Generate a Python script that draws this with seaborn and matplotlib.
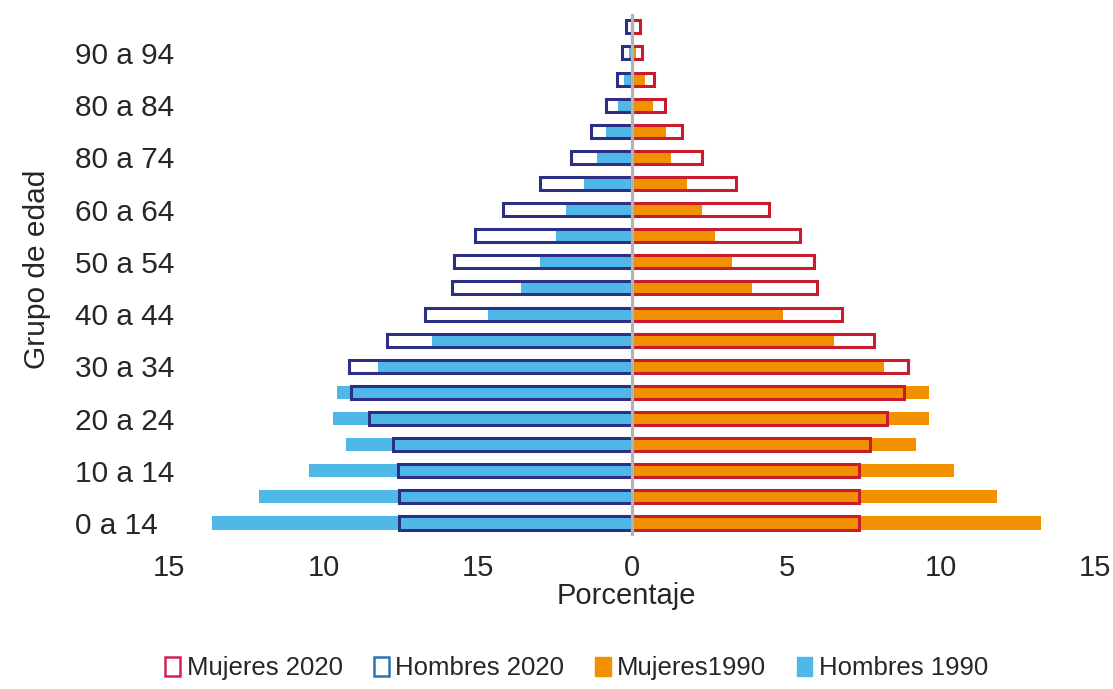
import seaborn as sns
import matplotlib.pyplot as plt
import pandas as pd
from matplotlib.patches import Patch

# grupos de edad, de 0-4 (abajo) a 95+ (arriba)
grupos = ["0-4", "5-9", "10-14", "15-19", "20-24", "25-29", "30-34", "35-39",
          "40-44", "45-49", "50-54", "55-59", "60-64", "65-69", "70-74",
          "75-79", "80-84", "85-89", "90-94", "95+"]
etiquetas_y = ["0 a 14", "10 a 14", "20 a 24", "30 a 34", "40 a 44",
               "50 a 54", "60 a 64", "80 a 74", "80 a 84", "90 a 94"]

hombres_2020 = [7.55, 7.55, 7.58, 7.75, 8.52, 9.10, 9.16, 7.94, 6.70, 5.83,
                5.76, 5.08, 4.18, 2.98, 1.97, 1.33, 0.84, 0.50, 0.32, 0.19]
hombres_1990 = [13.6, 12.1, 10.46, 9.26, 9.68, 9.55, 8.22, 6.47, 4.66, 3.60,
                2.98, 2.46, 2.14, 1.55, 1.13, 0.84, 0.45, 0.26, 0.10, 0.05]
mujeres_2020 = [7.34, 7.34, 7.34, 7.69, 8.26, 8.82, 8.93, 7.83, 6.80, 6.00,
                5.90, 5.43, 4.42, 3.35, 2.25, 1.62, 1.05, 0.70, 0.33, 0.24]
mujeres_1990 = [13.26, 11.83, 10.44, 9.21, 9.63, 9.63, 8.17, 6.55, 4.90, 3.87,
                3.22, 2.67, 2.25, 1.76, 1.27, 1.08, 0.66, 0.43, 0.12, 0.06]

ticks_x = [-15, -10, -5, 0, 5, 10, 15]
etiquetas_x = ["15", "10", "15", "0", "5", "10", "15"]

df = pd.DataFrame({
    "grupo": grupos,
    "h2020": [-v for v in hombres_2020],
    "h1990": [-v for v in hombres_1990],
    "m2020": mujeres_2020,
    "m1990": mujeres_1990,
})

sns.set_theme(style="white")
plt.rcParams["font.family"] = ["Liberation Sans", "DejaVu Sans"]

azul_claro = "#4FB8E7"
naranja = "#F29100"
azul_osc = "#2B2F86"
rojo = "#C81C2C"

orden = grupos[::-1]  # el primero queda arriba

fig = plt.figure(figsize=(11.13, 6.89), dpi=100)
ax = fig.add_axes([0.152, 0.222, 0.832, 0.758])

sns.barplot(data=df, x="h1990", y="grupo", order=orden, orient="h",
            color=azul_claro, width=0.5, errorbar=None, linewidth=0,
            saturation=1, ax=ax)
sns.barplot(data=df, x="m1990", y="grupo", order=orden, orient="h",
            color=naranja, width=0.5, errorbar=None, linewidth=0,
            saturation=1, ax=ax)
sns.barplot(data=df, x="h2020", y="grupo", order=orden, orient="h",
            color=azul_osc, fill=False, width=0.5, errorbar=None,
            linewidth=2.2, saturation=1, ax=ax)
sns.barplot(data=df, x="m2020", y="grupo", order=orden, orient="h",
            color=rojo, fill=False, width=0.5, errorbar=None,
            linewidth=2.2, saturation=1, ax=ax)

ax.axvline(0, color="#B3B3B3", lw=2.3, zorder=5)

ax.set_xlim(-15, 15)
ax.set_ylim(len(grupos) - 0.5, -0.5)
ax.set_xticks(ticks_x)
ax.set_xticklabels(etiquetas_x, fontsize=21)

pos_y = [orden.index(g) for g in grupos[::2]]
ax.set_yticks(pos_y)
ax.set_yticklabels(etiquetas_y, fontsize=21.5, ha="left")
ax.tick_params(axis="y", length=0, pad=67.5)
ax.tick_params(axis="x", length=0, pad=13)

for s in ax.spines.values():
    s.set_visible(False)

ax.set_xlabel("Porcentaje", fontsize=21, va="top")
ax.xaxis.set_label_coords(0.4935, -0.088)
ax.set_ylabel("Grupo de edad", fontsize=21.5)
ax.yaxis.set_label_coords(-0.128, 0.51)

handles = [
    Patch(facecolor="white", edgecolor="#D42250", linewidth=1.8, label="Mujeres 2020"),
    Patch(facecolor="white", edgecolor="#2E74B5", linewidth=1.8, label="Hombres 2020"),
    Patch(facecolor=naranja, edgecolor=naranja, label="Mujeres1990"),
    Patch(facecolor=azul_claro, edgecolor=azul_claro, label="Hombres 1990"),
]
fig.legend(handles=handles, loc="center", bbox_to_anchor=(0.518, 0.03),
           ncol=4, frameon=False, fontsize=18.5, handlelength=0.6,
           handleheight=0.75, handletextpad=0.25, columnspacing=1.2)

fig.savefig("out.png", dpi=100)
